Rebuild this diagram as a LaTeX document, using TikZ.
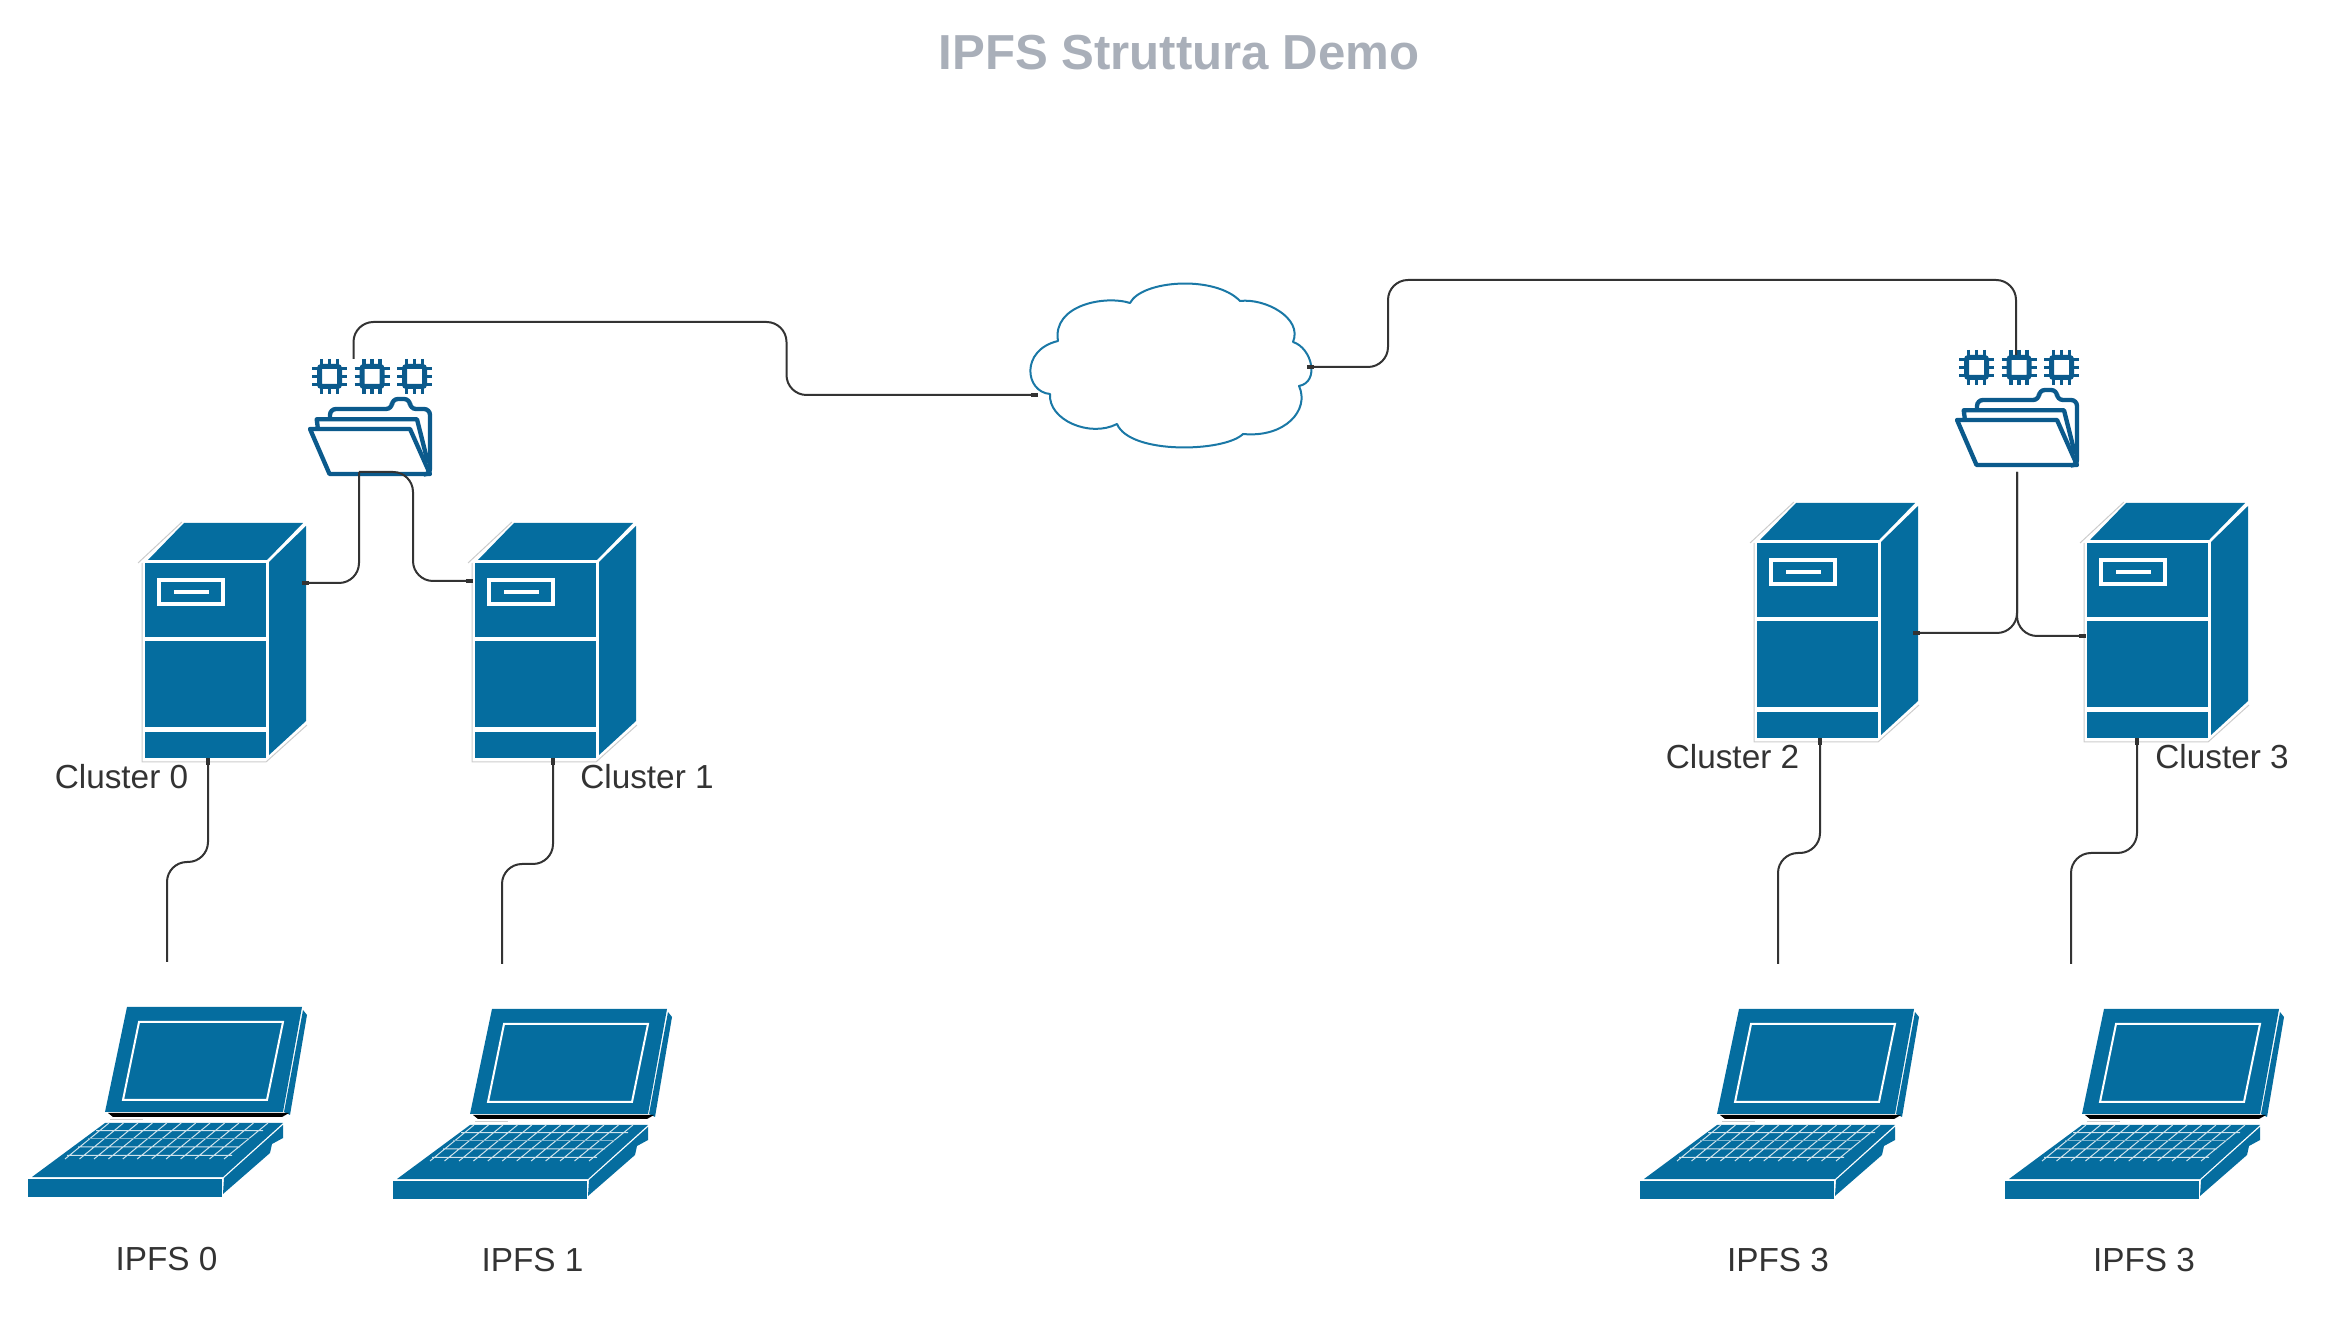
\documentclass[tikz,border=0pt]{standalone}
\usepackage{xcolor}
\usepackage{fontspec}
\setmainfont{Liberation Sans}
\usetikzlibrary{arrows.meta}

\definecolor{boxblue}{HTML}{056D9F}
\definecolor{iconblue}{HTML}{0B5A8C}
\definecolor{cloudblue}{HTML}{1A78A6}
\definecolor{wiredark}{HTML}{333333}
\definecolor{titlegrey}{HTML}{A9AFB9}
\definecolor{edgegrey}{HTML}{CCCCCC}
\definecolor{keywhite}{HTML}{CFE3EC}

\tikzset{
  stub/.tip={Rectangle[length=2.1pt,width=1pt]},
  link/.style={draw=wiredark, line width=.6pt, rounded corners=6pt},
  caption/.style={anchor=base, text=wiredark, font=\fontsize{10pt}{12pt}\selectfont},
  chipicon/.pic={
    \draw[iconblue, line width=1.5pt, rounded corners=.6pt] (-10,-10) rectangle (10,10);
    \draw[iconblue, line width=1.1pt]
      (-8,-17.5) -- (-8,-10) (0,-17.5) -- (0,-10) (8,-17.5) -- (8,-10)
      (-8,10) -- (-8,17.5) (0,10) -- (0,17.5) (8,10) -- (8,17.5)
      (-17.5,-8) -- (-10,-8) (-17.5,0) -- (-10,0) (-17.5,8) -- (-10,8)
      (10,-8) -- (17.5,-8) (10,0) -- (17.5,0) (10,8) -- (17.5,8);
  },
  foldericon/.pic={
    \pic at (49.5,76.5) {chipicon};
    \pic at (92,76.5) {chipicon};
    \pic at (134.5,76.5) {chipicon};
    \draw[iconblue, line width=1.3pt, rounded corners=1.8pt]
      (50,118) -- (50,109) -- (112,109) -- (112,99) -- (130,99) -- (130,109) -- (150,109) -- (150,174.5) -- (145,174.5);
    \draw[iconblue, line width=1.3pt, line join=round]
      (37.7,127) -- (36.7,119.3) -- (137,119.3) -- (148,163);
    \draw[iconblue, line width=1.3pt, line join=round]
      (30,129) -- (130,129) -- (150,174) -- (49.5,174) -- cycle;
  },
  serverbox/.pic={
    % faint outline
    \draw[edgegrey, line width=.3pt] (-4,3) -- (40,-38) (0,3) -- (0,202) -- (124,202) -- (165,165);
    % front panels
    \fill[boxblue] (3,3) rectangle (124,77);
    \fill[boxblue] (3,81) rectangle (124,167);
    \fill[boxblue] (3,172) rectangle (124,198);
    \draw[white, line width=1.2pt] (17,20) rectangle (81,44);
    \fill[white] (32,30) rectangle (67,34);
    % top and side
    \fill[boxblue] (6,0) -- (42,-37) -- (161,-37) -- (125,0) -- cycle;
    \fill[boxblue] (127,2) -- (164,-34) -- (164,161) -- (127,195) -- cycle;
  },
  laptopbox/.pic={
    % lid
    \fill[boxblue] (117,7) -- (292,7) -- (273,112) -- (95,112) -- cycle;
    \draw[white, line width=.6pt] (129,22) -- (273,22) -- (257,100) -- (113,100) -- cycle;
    \fill[boxblue] (293,10) -- (297,15) -- (280,115) -- (274,112) -- cycle;
    \fill[black] (98,113) -- (279,113) -- (272,117) -- (103,117) -- cycle;
    \draw[edgegrey, line width=.3pt] (100,120) -- (133,120);
    % base
    \fill[boxblue] (95,123) -- (273,123) -- (213,177) -- (22,177) -- cycle;
    \fill[boxblue] (18,179) rectangle (212,197);
    \fill[boxblue] (214,178) -- (273,125) -- (273,138) -- (262,144) -- (260,153) -- (213,194) -- cycle;
    % keyboard
    \draw[keywhite, line width=.3pt]
      (86,130.7) -- (253,130.7) (68,147) -- (230,147) (57,155.3) -- (222,155.3)
      (55,159) -- ++(44,-36) (69.5,159) -- ++(44,-36) (84,159) -- ++(44,-36)
      (98.4,159) -- ++(44,-36) (112.8,159) -- ++(44,-36) (127.2,159) -- ++(44,-36)
      (141.7,159) -- ++(44,-36) (156.1,159) -- ++(44,-36) (170.6,159) -- ++(44,-36)
      (185,159) -- ++(44,-36) (199.5,159) -- ++(44,-36) (214,159) -- ++(44,-36);
    \draw[keywhite!60!boxblue, line width=.3pt] (78,138.7) -- (240,138.7);
  },
  cloudbox/.pic={
    \draw[cloudblue, line width=.6pt, line join=round]
      (110,33) .. controls (122,10) and (195,5) .. (220,31)
      .. controls (245,28) and (283,48) .. (273,72)
      .. controls (292,78) and (300,112) .. (279,116)
      .. controls (290,140) and (265,168) .. (223,164)
      .. controls (205,182) and (110,185) .. (97,154)
      .. controls (70,168) and (28,150) .. (30,124)
      .. controls (5,122) and (0,80) .. (38,71)
      .. controls (32,35) and (85,25) .. (110,33) -- cycle;
  }
}

\begin{document}
\begin{tikzpicture}[x=.3pt, y=-.3pt]
    \useasboundingbox (0,0) rectangle (2334,1320);

    % Title
    \node[anchor=base, text=titlegrey, font=\fontsize{14.75pt}{18pt}\selectfont\bfseries] (title) at (1179,70) {IPFS Struttura Demo};

    % Cloud
    \pic (net) at (1020,270) {cloudbox};

    % Folders
    \pic (store0) at (280,300) {foldericon};
    \pic (store1) at (1927,291) {foldericon};

    % Servers
    \pic (srv0) at (142,560) {serverbox};
    \pic (srv1) at (472,560) {serverbox};
    \pic (srv2) at (1754,540) {serverbox};
    \pic (srv3) at (2084,540) {serverbox};

    % Laptops
    \pic (lap0) at (10,1000) {laptopbox};
    \pic (lap1) at (375,1002) {laptopbox};
    \pic (lap2) at (1622,1002) {laptopbox};
    \pic (lap3) at (1987,1002) {laptopbox};

    % Labels
    \node[caption] (clus0) at (121.5,788.5) {Cluster 0};
    \node[caption] (clus1) at (647,788.5) {Cluster 1};
    \node[caption] (clus2) at (1732.5,768.5) {Cluster 2};
    \node[caption] (clus3) at (2222,768.5) {Cluster 3};
    \node[caption] (ipfs0) at (166.5,1270) {IPFS 0};
    \node[caption] (ipfs1) at (532.5,1271) {IPFS 1};
    \node[caption] (ipfs2) at (1778,1271) {IPFS 3};
    \node[caption] (ipfs3) at (2144,1271) {IPFS 3};

    % Ports
    \coordinate (net-west) at (1038,395);
    \coordinate (net-east) at (1307,367);
    \coordinate (store0-north) at (353.5,359);
    \coordinate (store0-south) at (359,472);
    \coordinate (store1-north) at (2016,355);
    \coordinate (store1-south) at (2017,472);
    \coordinate (srv0-east) at (302,583);
    \coordinate (srv1-west) at (473,581);
    \coordinate (srv2-east) at (1913,633);
    \coordinate (srv3-west) at (2086,636);
    \coordinate (srv0-south) at (208,758);
    \coordinate (srv1-south) at (553,758);
    \coordinate (srv2-south) at (1820,738);
    \coordinate (srv3-south) at (2137,738);
    \coordinate (lap0-top) at (167,962);
    \coordinate (lap1-top) at (502,964);
    \coordinate (lap2-top) at (1778,964);
    \coordinate (lap3-top) at (2071,964);

    % Edges to the cloud
    \draw[link, -stub] (store0-north) -- ++(0,-37) -| ++(433,73) -- (net-west);
    \draw[link, stub-] (net-east) -- ++(81,0) |- (store1-north |- 0,280) -- (store1-north);

    % Edges from folders to servers
    \draw[link, -stub] (store0-south) |- (srv0-east);
    \draw[link, -stub] (store0-south) -- ++(54,0) |- (srv1-west);
    \draw[link, -stub] (store1-south) |- (srv2-east);
    \draw[link, -stub] (store1-south) |- (srv3-west);

    % Edges from servers to laptops
    \draw[link, stub-] (srv0-south) -- ++(0,104) -| (lap0-top);
    \draw[link, stub-] (srv1-south) -- ++(0,106) -| (lap1-top);
    \draw[link, stub-] (srv2-south) -- ++(0,115) -| (lap2-top);
    \draw[link, stub-] (srv3-south) -- ++(0,115) -| (lap3-top);
\end{tikzpicture}
\end{document}
